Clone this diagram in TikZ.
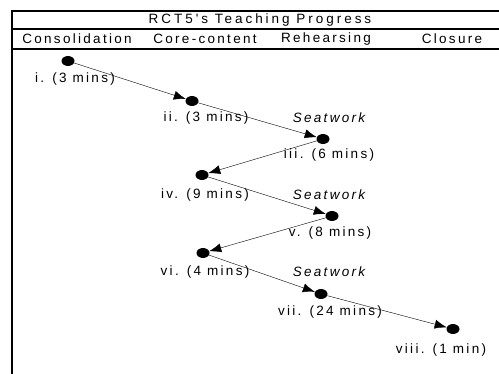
\documentclass[tikz,border=0pt]{standalone}
\usepackage{fontspec}
\setmainfont[LetterSpace=17]{Liberation Sans}
\newfontfamily\titlefont[LetterSpace=22]{Liberation Sans}
\usetikzlibrary{arrows.meta,shapes.geometric}
\tikzset{
  dot/.style={ellipse,fill=black,minimum width=13pt,minimum height=10pt,inner sep=0pt},
  frame/.style={line width=2.2pt},
  txt/.style={font=\fontsize{13.5}{15}\selectfont,inner sep=0pt},
}
\begin{document}
\begin{tikzpicture}[x=1pt,y=-1pt,>={Latex[length=12pt,width=9pt]}]
  \useasboundingbox (0,0) rectangle (499,374);
  % frame and headings
  \coordinate (top-l) at (12,11);
  \coordinate (top-r) at (499,11);
  \draw[frame] (top-r) -- (top-l) -- (12,374);
  \draw[frame] (12,29) -- (499,29);
  \draw[frame] (12,49) -- (499,49);
  \node[txt,font=\fontsize{13.5}{15}\titlefont] (title) at (260,20) {RCT5's Teaching Progress};
  \foreach \n/\x/\t in {cons/77/Consolidation, core/205/Core-content,
    reh/326/Rehearsing, clo/452/Closure}{%
    \node[txt] (\n) at (\x,39) {\t};
  }%
  % steps
  \foreach \n/\x/\y in {p1/68/61, p2/192/101, p3/323/139, p4/202/175,
    p5/332/216, p6/203/253, p7/321/294, p8/453/329}{%
    \node[dot] (\n) at (\x,\y) {};
  }%
  \foreach \n/\x/\y/\t in {l1/75/79/i. (3 mins), l2/206/118/ii. (3 mins),
    l3/329/155/iii. (6 mins), l4/205/195/iv. (9 mins),
    l5/330/233/v. (8 mins), l6/205/272/vi. (4 mins),
    l7/330/312/vii. (24 mins), l8/441/350/viii. (1 min)}{%
    \node[txt] (\n) at (\x,\y) {\t};
  }%
  \foreach \n/\y in {s1/118, s2/195, s3/272}{%
    \node[txt,font=\fontsize{13.5}{15}\selectfont\itshape] (\n) at (329,\y) {Seatwork};
  }%
  \foreach \a/\b in {p1/p2, p2/p3, p3/p4, p4/p5, p5/p6, p6/p7, p7/p8}{%
    \draw[->] (\a) -- (\b);
  }%
\end{tikzpicture}
\end{document}
